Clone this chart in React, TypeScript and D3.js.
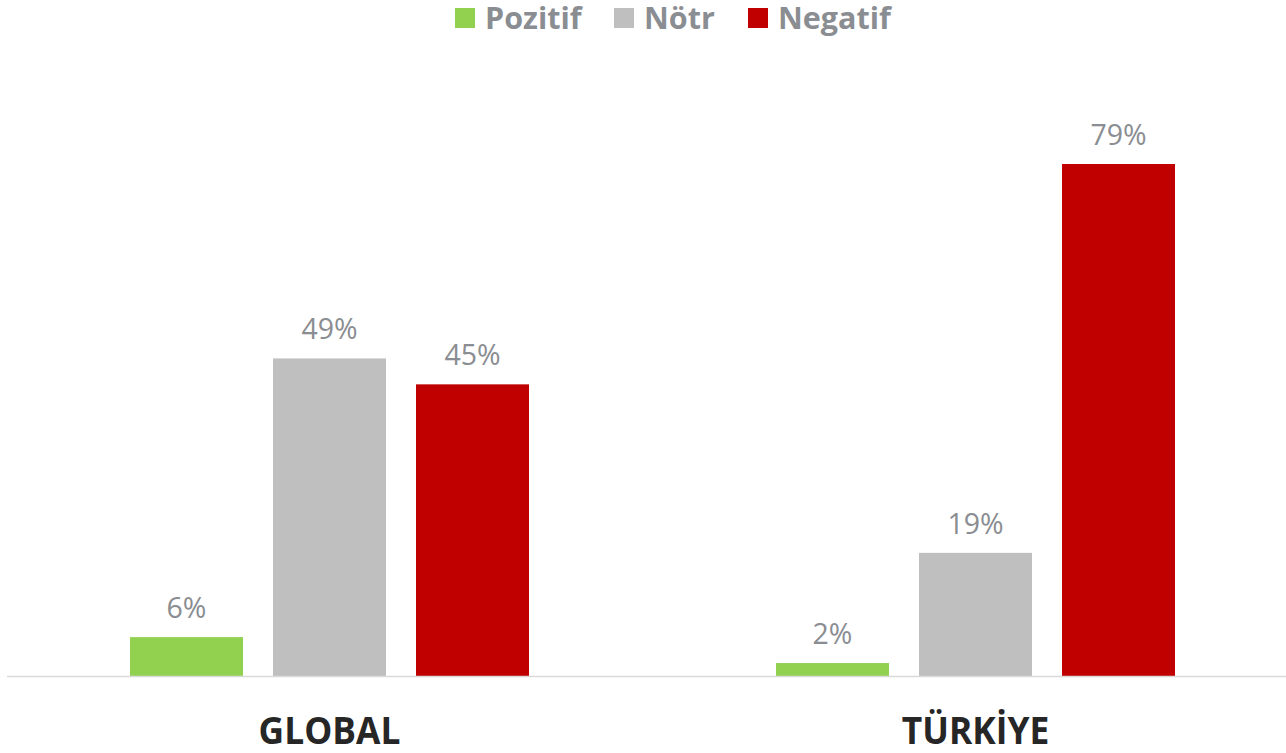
import * as d3 from 'd3';
import React from 'react';

const categories = ['GLOBAL', 'TÜRKİYE'];
const seriesNames = ['Pozitif', 'Nötr', 'Negatif'];
const seriesColors = ['#92d050', '#bfbfbf', '#c00000'];
const pozitif = [6, 2];
const notr = [49, 19];
const negatif = [45, 79];

const allSeries = [pozitif, notr, negatif];

const width = 1286;
const height = 753;
const baseline = 676;
const font = '"Open Sans", sans-serif';

function App() {
  const x0 = d3.scaleBand().domain(categories).range([6.5, 1298.5]).padding(0);
  const groupWidth = 399;
  const x1 = d3
    .scaleBand()
    .domain(seriesNames)
    .range([0, groupWidth])
    .paddingInner(30 / 143)
    .paddingOuter(0);
  const y = d3.scaleLinear().domain([0, 79]).range([baseline, 164]);

  const legendX = [455, 614, 748];

  return (
    <svg
      width={width}
      height={height}
      style={{ position: 'absolute', left: 0, top: 0, background: '#fff' }}
    >
      {seriesNames.map((name, i) => (
        <g key={name} transform={`translate(${legendX[i]},0)`}>
          <rect x={0} y={8} width={20} height={20} fill={seriesColors[i]} />
          <text
            x={30}
            y={29}
            fontFamily={font}
            fontWeight="bold"
            fontSize={30.5}
            fill="#8a8d91"
          >
            {name}
          </text>
        </g>
      ))}

      {categories.map((cat, ci) => {
        const gx = (x0(cat) as number) + (x0.bandwidth() - groupWidth) / 2;
        return (
          <g key={cat} transform={`translate(${gx},0)`}>
            {allSeries.map((vals, si) => {
              const bx = x1(seriesNames[si]) as number;
              const v = vals[ci];
              return (
                <g key={si}>
                  <rect
                    x={bx}
                    y={y(v)}
                    width={x1.bandwidth()}
                    height={baseline - y(v)}
                    fill={seriesColors[si]}
                  />
                  <text
                    x={bx + x1.bandwidth() / 2}
                    y={y(v) - 19}
                    textAnchor="middle"
                    fontFamily={font}
                    fontSize={28.5}
                    fill="#8a8d91"
                  >
                    {v}%
                  </text>
                </g>
              );
            })}
            <text
              transform={`translate(${groupWidth / 2},744) scale(0.93,1)`}
              textAnchor="middle"
              fontFamily={font}
              fontWeight="bold"
              fontSize={38}
              fill="#262626"
            >
              {cat}
            </text>
          </g>
        );
      })}

      <line x1={7} x2={1286} y1={baseline + 0.5} y2={baseline + 0.5} stroke="#d9d9d9" strokeWidth={1.5} />
    </svg>
  );
}

export default App;
